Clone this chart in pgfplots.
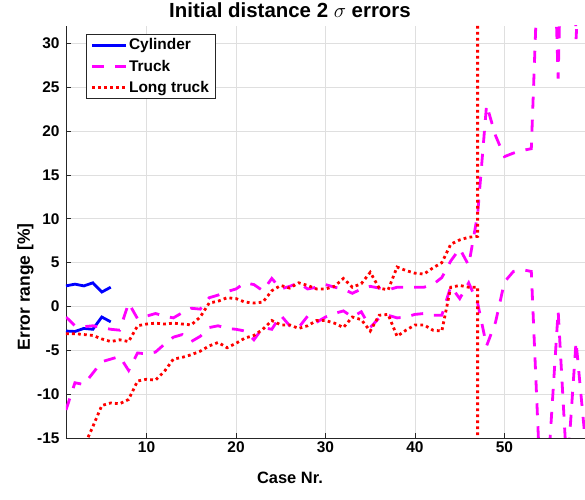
\documentclass[border=0pt]{standalone}
\usepackage{fontspec}
\setmainfont{Liberation Sans}
\usepackage{pgfplots}
\pgfplotsset{compat=1.18}
\definecolor{axgray}{RGB}{38,38,38}
\definecolor{gridgray}{RGB}{223,223,223}
\definecolor{mmag}{RGB}{255,0,255}
\definecolor{mred}{RGB}{255,0,0}
\definecolor{mblue}{RGB}{0,0,255}
\begin{document}
\begin{tikzpicture}
\path[use as bounding box] (-66bp,-62bp) rectangle (519bp,438bp);
\begin{axis}[
  at={(0,0)}, anchor=south west,
  scale only axis, width=519bp, height=412bp,
  xmin=1, xmax=59, ymin=-15, ymax=32,
  xtick={10,20,30,40,50}, ytick={-15,-10,-5,0,5,10,15,20,25,30},
  axis x line*=bottom, axis y line*=left,
  axis line style={-, draw=axgray, line width=0.8bp},
  tick align=inside, major tick length=5bp,
  tick style={draw=axgray, line width=0.8bp},
  grid=major, major grid style={draw=gridgray, line width=0.7bp},
  /pgf/number format/assume math mode=true,
  ticklabel style={font=\bfseries\fontsize{15.5}{18}\selectfont, text=black},
  yticklabel style={xshift=-3bp},
  title={Initial distance 2 $\sigma$ errors},
  title style={at={([yshift=3bp]axis description cs:0.4316,1)}, anchor=base, inner sep=0pt, font=\bfseries\fontsize{20.5}{22}\selectfont},
  xlabel={Case Nr.},
  xlabel style={at={([yshift=-46bp]axis description cs:0.4316,0)}, anchor=base, inner sep=0pt, font=\bfseries\fontsize{16.5}{19}\selectfont},
  ylabel={Error range [\%]},
  ylabel style={at={([xshift=-36bp]axis description cs:0,0.367)}, anchor=base, rotate=0, inner sep=0pt, font=\bfseries\fontsize{17.5}{20}\selectfont},
  legend cell align=left,
  legend image code/.code={\draw[#1] (0bp,0bp) -- (34bp,0bp);},
  legend style={at={([xshift=20bp,yshift=-8bp]axis description cs:0,1)}, anchor=north west,
    draw=axgray, line width=0.6bp, fill=white, inner xsep=4.5bp, inner ysep=3bp,
    font=\bfseries\fontsize{15.5}{18}\selectfont, row sep=5.5bp,
    nodes={inner sep=1.5bp}},
]
% Cylinder
\addplot[mblue, line width=2.8bp] coordinates {
(1,2.35) (2,2.55) (3,2.35) (4,2.7) (5,1.65) (6,2.2)};
\addlegendentry{Cylinder}
\addplot[mblue, line width=2.8bp, forget plot] coordinates {
(1,-2.8) (2,-2.85) (3,-2.5) (4,-2.6) (5,-1.2) (6,-1.75)};
% Truck
\addplot[mmag, line width=2.8bp, dash pattern=on 12bp off 11bp] coordinates {
(1,-1.2) (2,-2.2) (3,-2.3) (4,-2.2) (5,-2.4) (6,-2.6) (7,-2.7) (8,0.4) (9,-1.4) (10,-1.1)
(11,-0.8) (12,-1.1) (13,-1.3) (14,-0.7) (15,-0.2) (16,-0.3) (17,1.0) (18,1.3) (19,1.7) (20,2.0)
(21,2.7) (22,2.5) (23,1.8) (24,3.2) (25,2.0) (26,2.3) (27,2.7) (28,2.0) (29,2.2) (30,2.5)
(31,2.2) (32,2.0) (33,1.5) (34,2.0) (35,2.3) (36,2.1) (37,1.9) (38,2.2) (39,2.2) (40,2.2)
(41,2.2) (42,2.5) (43,3.3) (44,5.2) (45,6.6) (46,4.7) (47,10.5) (48,23) (49,19.5) (50,17.1)
(51,17.5) (52,17.8) (53,18) (54,46) (55,60) (56,26) (57,70) (58,30.5) (59,50)};
\addlegendentry{Truck}
\addplot[mmag, line width=2.8bp, dash pattern=on 12bp off 11bp, forget plot] coordinates {
(1,-11.8) (2,-8.7) (3,-8.9) (4,-7.6) (5,-6.3) (6,-6.0) (7,-5.7) (8,-7.3) (9,-5.3) (10,-5.4)
(11,-5.2) (12,-4.3) (13,-3.5) (14,-3.2) (15,-4.0) (16,-3.4) (17,-2.4) (18,-2.2) (19,-2.5) (20,-2.6)
(21,-2.8) (22,-3.8) (23,-2.4) (24,-2.6) (25,-1.0) (26,-2.2) (27,-2.4) (28,-1.1) (29,-1.8) (30,-1.2)
(31,-0.8) (32,-0.5) (33,-1.2) (34,-0.6) (35,-2.4) (36,-1.3) (37,-1.0) (38,-1.3) (39,-1.2) (40,-0.9)
(41,-0.8) (42,-1.0) (43,-1.0) (44,2.3) (45,0.9) (46,2.7) (47,0.4) (48,-4.5) (49,-1.8) (50,2.8)
(51,4.0) (52,4.2) (53,4.0) (54,-20) (55,-16.6) (56,-0.5) (57,-19) (58,-4) (59,-15)};
% Long truck
\addplot[mred, line width=2.8bp, dash pattern=on 2.8bp off 3.2bp] coordinates {
(1,-3.1) (2,-3.1) (3,-3.2) (4,-3.3) (5,-3.7) (6,-4.0) (7,-3.8) (8,-4.0) (9,-2.2) (10,-2.0)
(11,-1.9) (12,-2.0) (13,-1.9) (14,-2.0) (15,-2.1) (16,-1.2) (17,0.4) (18,0.6) (19,1.0) (20,0.9)
(21,0.5) (22,0.4) (23,0.5) (24,1.8) (25,2.4) (26,2.1) (27,2.7) (28,2.4) (29,2.0) (30,2.0)
(31,2.3) (32,3.2) (33,2.2) (34,2.6) (35,3.9) (36,2.1) (37,1.9) (38,4.5) (39,4.1) (40,3.8)
(41,3.7) (42,4.4) (43,5.0) (44,7.1) (45,7.6) (46,7.9) (47,8.0) (47,100)};
\addlegendentry{Long truck}
\addplot[mred, line width=2.8bp, dash pattern=on 2.8bp off 3.2bp, forget plot] coordinates {
(1,-22) (2,-19) (3,-16) (4,-13.7) (5,-11.3) (6,-11.0) (7,-11.1) (8,-10.6) (9,-8.5) (10,-8.3)
(11,-8.4) (12,-7.4) (13,-6.0) (14,-5.8) (15,-5.5) (16,-5.1) (17,-4.5) (18,-4.1) (19,-4.7) (20,-4.2)
(21,-3.6) (22,-3.3) (23,-2.6) (24,-1.6) (25,-2.1) (26,-2.1) (27,-2.5) (28,-2.2) (29,-1.6) (30,-1.6)
(31,-1.9) (32,-2.4) (33,-1.2) (34,-1.5) (35,-2.8) (36,-1.0) (37,-0.9) (38,-3.4) (39,-2.7) (40,-2.1)
(41,-2.1) (42,-2.7) (43,-2.8) (44,2.2) (45,2.4) (46,2.2) (47,2.2) (47,-100)};
\end{axis}
\end{tikzpicture}
\end{document}
